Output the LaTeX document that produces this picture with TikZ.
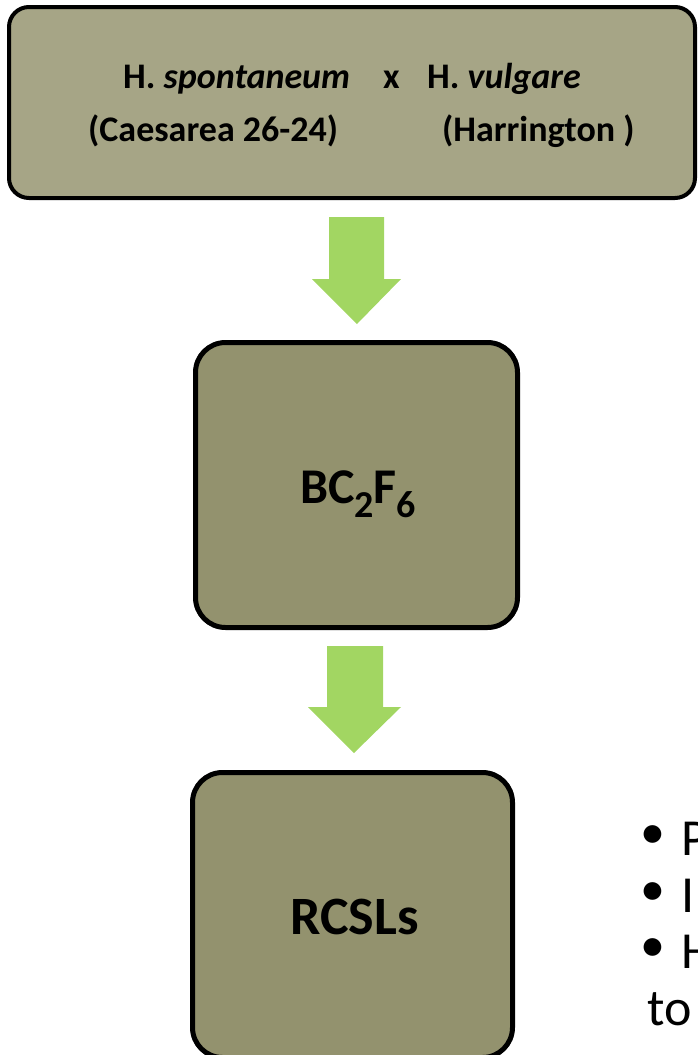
\documentclass[tikz,border=0pt]{standalone}
\usepackage{fontspec}
\setmainfont{Carlito}
\definecolor{boxtop}{RGB}{166,165,134}
\definecolor{boxmid}{RGB}{147,146,110}
\definecolor{arrowgreen}{RGB}{162,214,98}
\tikzset{
  stage/.style={draw=black, rounded corners=#1, inner sep=0pt, outer sep=0pt},
  stagetext/.style={anchor=base, inner sep=0pt, font=\bfseries\fontsize{50}{60}\selectfont},
  crosstext/.style={anchor=base west, inner sep=0pt, font=\bfseries\fontsize{36}{43}\selectfont},
  bullettext/.style={anchor=base west, inner sep=0pt, font=\fontsize{52}{60}\selectfont},
  blockarrow/.style={fill=arrowgreen, draw=none}
}
\newcommand{\subdigit}[1]{\raisebox{-14pt}{\fontsize{38}{38}\selectfont #1}}
\begin{document}
\begin{tikzpicture}[x=1pt, y=-1pt]
\useasboundingbox (0,0) rectangle (697,1055);
\clip (0,0) rectangle (697,1055);

% stage boxes
\node[stage=20pt, line width=4pt, fill=boxtop, minimum width=686pt, minimum height=191pt] (cross) at (352,102.5) {};
\node[stage=30pt, line width=5pt, fill=boxmid, minimum width=322pt, minimum height=285pt] (bc) at (356.5,485) {};
\node[stage=30pt, line width=5pt, fill=boxmid, minimum width=320pt, minimum height=285pt] (rcsl) at (352.5,915) {};

% parental cross
\node[crosstext] (p1) at (123,88) {H. \textit{spontaneum}};
\node[crosstext] (px) at (383,88) {x};
\node[crosstext] (p2) at (427,88) {H. \textit{vulgare}};
\node[crosstext] (p1n) at (88,141) {(Caesarea 26-24)};
\node[crosstext] (p2n) at (442,141) {(Harrington )};

% generation labels
\node[stagetext] (bclabel) at (358,503) {BC\subdigit{2}F\subdigit{6}};
\node[stagetext, font=\bfseries\fontsize{54}{60}\selectfont] (rcsllabel) at (354.5,934) {RCSLs};

% block arrows between the stages
\fill[blockarrow] (329,217) -- (384,217) -- (384,279) -- (401,279) -- (357,324)
  -- (312,279) -- (329,279) -- cycle;
\fill[blockarrow] (327,646) -- (383,646) -- (383,707) -- (401,707) -- (354,753)
  -- (308,707) -- (327,707) -- cycle;

% side notes
\foreach \yb/\txt [count=\i] in {855/P, 912/I, 968/H} {
  \node[inner sep=0pt, font=\fontsize{50}{60}\selectfont] (dot\i) at (653,\yb-18) {•};
  \node[bullettext] (note\i) at (681,\yb) {\txt};
}
\node[bullettext] (note4) at (647,1025) {to};
\end{tikzpicture}
\end{document}
